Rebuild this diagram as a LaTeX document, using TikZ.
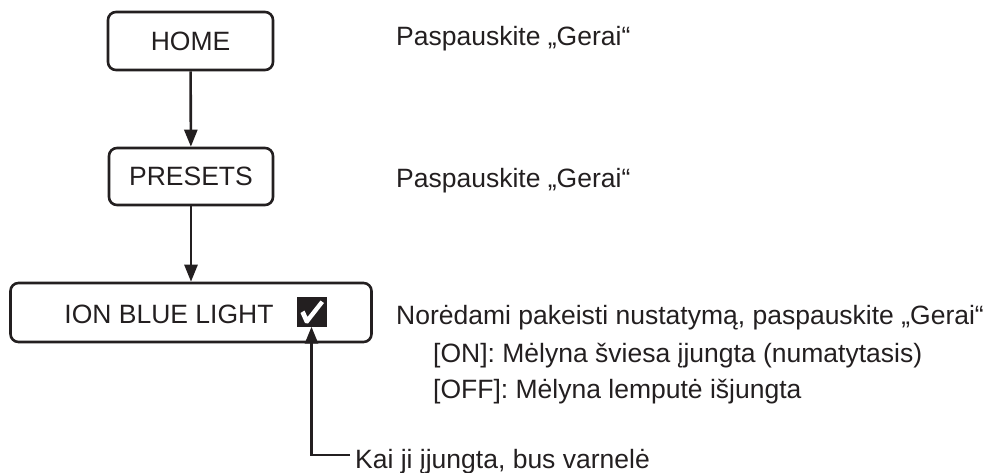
\documentclass[tikz,border=0pt]{standalone}
\usepackage{fontspec}
\setmainfont{Liberation Sans}
\usetikzlibrary{arrows.meta}
\definecolor{ink}{HTML}{231F20}
\tikzset{
  box/.style={draw=ink, line width=2.6pt, rounded corners=8pt, inner sep=0pt, font=\fontsize{26.5}{31}\selectfont, text=ink},
  conn/.style={draw=ink, line width=2.6pt, -{Triangle[length=17pt,width=13pt]}},
  lbl/.style={anchor=base west, inner sep=0pt, font=\fontsize{26.5}{31}\selectfont, text=ink}
}
\begin{document}
\begin{tikzpicture}[x=1pt,y=-1pt]
\useasboundingbox (0,0) rectangle (989,472);
\node[box, minimum width=165pt, minimum height=58pt] (home) at (190.5,41) {HOME};
\node[box, minimum width=164pt, minimum height=57pt] (presets) at (191,176.5) {PRESETS};
\node[box, minimum width=361pt, minimum height=59pt] (ion) at (191,312.5) {};
\node[anchor=base, inner sep=0pt, font=\fontsize{26.5}{31}\selectfont, text=ink] (iontext) at (169,323.5) {ION BLUE LIGHT};
\node[fill=ink, minimum size=30pt, inner sep=0pt] (chk) at (311.5,311.5) {};
\fill[white] (300.5,313) -- (304.5,310.5) -- (307.5,317) -- (320.5,300.5) -- (324,303) -- (308,323.5) -- (305,323) -- cycle;
\draw[conn] (home) -- (presets);
\draw[conn] (presets) -- (ion);
\node[lbl] (t1) at (396,45) {Paspauskite „Gerai“};
\node[lbl] (t2) at (396,187) {Paspauskite „Gerai“};
\node[lbl] (t3) at (396,324) {Norėdami pakeisti nustatymą, paspauskite „Gerai“};
\node[lbl] (t4) at (433,362) {[ON]: Mėlyna šviesa įjungta (numatytasis)};
\node[lbl] (t5) at (433,398) {[OFF]: Mėlyna lemputė išjungta};
\node[lbl] (kai) at (355,468) {Kai ji įjungta, bus varnelė};
\coordinate (kc) at (350,455);
\draw[conn] (kc) -| (chk.south);
\end{tikzpicture}
\end{document}
